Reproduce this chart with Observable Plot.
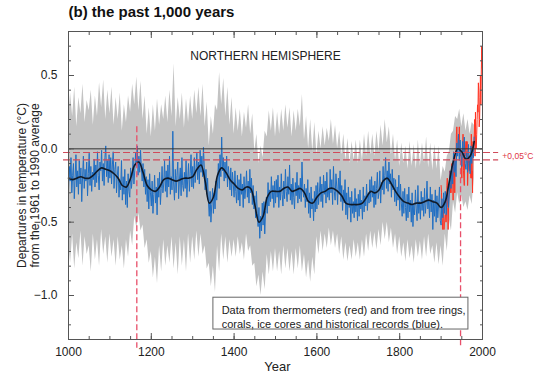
<!DOCTYPE html>
<html>
<head>
<meta charset="utf-8">
<script src="https://cdn.jsdelivr.net/npm/d3@7"></script>
<script src="https://cdn.jsdelivr.net/npm/@observablehq/plot@0.6"></script>
<style>
  html, body { margin: 0; padding: 0; background: #fff; }
</style>
</head>
<body>
<div id="chart"></div>
<script>
// Proxy reconstruction (tree rings, corals, ice cores, historical records), 2-year steps from 1000
const proxyStart = 1000, proxyStep = 2;
const proxyValues = [
  -0.28,-0.12,-0.22,-0.06,-0.30,-0.18,-0.10,-0.34,-0.20,-0.04,
  -0.26,-0.15,-0.31,-0.08,-0.24,-0.13,-0.36,-0.19,-0.05,-0.27,
  -0.14,-0.22,-0.09,-0.32,-0.17,-0.03,-0.25,-0.12,-0.29,-0.16,
  -0.21,-0.07,-0.26,-0.11,-0.23,-0.02,-0.18,-0.28,-0.09,-0.15,
  -0.01,-0.22,-0.10,-0.25,-0.06,0.02,-0.19,-0.08,-0.23,-0.04,
  -0.20,-0.06,-0.24,-0.11,-0.02,-0.27,-0.14,-0.09,-0.30,-0.18,
  -0.12,-0.33,-0.21,-0.28,-0.08,-0.35,-0.19,-0.31,-0.14,-0.38,
  -0.22,-0.40,-0.17,-0.29,-0.33,-0.13,-0.27,-0.20,-0.06,-0.24,
  -0.15,-0.03,-0.12,0.02,-0.18,-0.05,-0.16,-0.01,-0.13,-0.22,
  -0.10,-0.26,-0.14,-0.31,-0.19,-0.36,-0.21,-0.41,-0.17,-0.30,
  -0.39,-0.22,-0.44,-0.31,-0.18,-0.37,-0.26,-0.45,-0.20,-0.33,
  -0.16,-0.38,-0.27,-0.12,-0.30,-0.24,-0.08,-0.29,-0.15,-0.33,
  -0.11,-0.26,-0.05,-0.31,-0.19,-0.28,0.12,-0.24,-0.35,-0.14,
  -0.30,-0.18,-0.09,-0.34,-0.21,-0.13,-0.32,-0.06,-0.25,-0.29,
  -0.16,-0.27,-0.08,-0.33,-0.20,-0.10,-0.29,-0.17,-0.04,-0.26,
  -0.12,-0.27,-0.06,-0.23,-0.15,-0.03,-0.21,-0.09,-0.24,-0.01,
  -0.16,-0.05,-0.19,0.01,-0.13,-0.28,-0.14,-0.31,-0.20,-0.36,
  -0.46,-0.29,-0.50,-0.38,-0.27,-0.44,-0.30,-0.41,-0.22,-0.35,
  -0.24,-0.10,-0.27,-0.04,-0.19,0.08,-0.15,-0.06,-0.22,-0.09,
  -0.20,-0.05,-0.26,-0.12,-0.18,-0.28,-0.13,-0.32,-0.16,-0.24,
  -0.33,-0.15,-0.29,-0.37,-0.18,-0.35,-0.21,-0.39,-0.17,-0.31,
  -0.24,-0.40,-0.19,-0.34,-0.27,-0.15,-0.33,-0.22,-0.37,-0.14,
  -0.30,-0.20,-0.38,-0.25,-0.41,-0.32,-0.47,-0.29,-0.44,-0.53,
  -0.40,-0.61,-0.46,-0.56,-0.37,-0.52,-0.36,-0.58,-0.42,-0.33,
  -0.44,-0.23,-0.39,-0.28,-0.36,-0.19,-0.34,-0.25,-0.40,-0.22,
  -0.37,-0.21,-0.33,-0.18,-0.40,-0.26,-0.35,-0.17,-0.31,-0.39,
  -0.22,-0.34,-0.14,-0.29,-0.36,-0.19,-0.31,-0.11,-0.35,-0.24,
  -0.38,-0.20,-0.33,-0.41,-0.23,-0.32,-0.16,-0.37,-0.25,-0.34,
  -0.20,-0.36,-0.09,-0.28,-0.33,-0.24,-0.40,-0.27,-0.36,-0.21,
  -0.44,-0.30,-0.47,-0.26,-0.41,-0.34,-0.49,-0.29,-0.43,-0.25,
  -0.41,-0.23,-0.38,-0.30,-0.19,-0.36,-0.24,-0.40,-0.18,-0.31,
  -0.22,-0.37,-0.16,-0.33,-0.27,-0.35,-0.14,-0.30,-0.21,-0.38,
  -0.12,-0.29,-0.35,-0.17,-0.26,-0.38,-0.20,-0.31,-0.15,-0.36,
  -0.25,-0.42,-0.28,-0.37,-0.21,-0.45,-0.30,-0.48,-0.26,-0.40,
  -0.33,-0.50,-0.29,-0.44,-0.36,-0.47,-0.27,-0.43,-0.34,-0.49,
  -0.31,-0.46,-0.28,-0.41,-0.35,-0.48,-0.26,-0.43,-0.32,-0.39,
  -0.24,-0.42,-0.30,-0.37,-0.21,-0.36,-0.19,-0.33,-0.25,-0.40,
  -0.22,-0.38,-0.27,-0.16,-0.34,-0.30,-0.15,-0.37,-0.23,-0.28,
  -0.12,-0.31,-0.18,-0.06,-0.27,-0.15,-0.29,-0.09,-0.24,-0.17,
  -0.33,-0.14,-0.28,-0.20,-0.36,-0.21,-0.39,-0.26,-0.35,-0.18,
  -0.42,-0.24,-0.37,-0.46,-0.29,-0.44,-0.27,-0.40,-0.49,-0.31,
  -0.47,-0.26,-0.43,-0.35,-0.50,-0.30,-0.53,-0.38,-0.45,-0.28,
  -0.41,-0.49,-0.25,-0.44,-0.36,-0.48,-0.29,-0.42,-0.33,-0.46,
  -0.27,-0.44,-0.37,-0.22,-0.41,-0.34,-0.47,-0.26,-0.43,-0.31,
  -0.55,-0.35,-0.46,-0.28,-0.50,-0.32,-0.47,-0.38,-0.26,-0.49,
  -0.52,-0.34,-0.47,-0.30,-0.44,-0.29,-0.45,-0.36,-0.27,-0.40,
  -0.30,-0.15,-0.27,-0.12,-0.24,-0.02,-0.16,-0.08,-0.19,0.04,
  -0.05,0.10,-0.08,0.06,-0.04,-0.12,0.05,-0.06,0.08,-0.10,
  -0.14,-0.02,-0.16,0.03,-0.09,-0.17,0.02,-0.10,0.00,-0.06,
  0.08
];
// Uncertainty band (upper / lower edge), 5-year steps from 1000
const bandStart = 1000, bandStep = 5;
const bandUpper = [
  0.18,0.38,0.22,0.42,0.15,0.35,0.24,0.44,0.18,0.33,0.26,0.40,0.16,0.36,0.22,0.45,0.28,0.47,0.20,0.40,
  0.24,0.42,0.16,0.35,0.20,0.38,0.12,0.30,0.18,0.36,0.25,0.44,0.30,0.49,0.26,0.46,0.20,0.36,0.10,0.28,
  0.08,0.30,0.12,0.34,0.16,0.30,0.20,0.36,0.18,0.40,0.22,0.58,0.15,0.35,0.20,0.38,0.14,0.34,0.18,0.36,
  0.20,0.40,0.24,0.42,0.22,0.44,0.15,0.32,0.02,0.22,0.10,0.30,0.26,0.52,0.30,0.48,0.22,0.42,0.16,0.35,
  0.10,0.28,0.12,0.27,0.08,0.25,0.14,0.30,0.10,0.24,-0.02,0.10,-0.10,0.02,-0.06,0.12,0.08,0.26,0.12,0.28,
  0.08,0.25,0.10,0.27,0.12,0.30,0.14,0.28,0.08,0.26,0.12,0.27,0.15,0.37,0.06,0.22,0.00,0.20,-0.02,0.18,
  -0.04,0.12,0.00,0.15,0.02,0.14,0.05,0.20,0.03,0.16,0.00,0.12,-0.04,0.10,-0.08,0.07,-0.10,0.05,-0.08,0.06,
  -0.10,0.06,-0.08,0.10,-0.05,0.12,-0.04,0.10,-0.05,0.12,-0.02,0.16,0.02,0.20,0.04,0.15,-0.04,0.10,-0.08,0.06,
  -0.12,0.04,-0.10,0.02,-0.14,0.05,-0.12,0.03,-0.14,0.06,-0.12,0.04,-0.10,0.08,-0.13,0.04,-0.15,0.03,-0.14,0.02,
  -0.22,-0.12,-0.16,-0.05,-0.02,0.10,0.12,0.22,0.20,0.27,0.15,0.24,0.12,0.20,0.10,0.18,0.16
];
const bandLower = [
  -0.62,-0.78,-0.58,-0.82,-0.64,-0.75,-0.56,-0.80,-0.60,-0.72,-0.66,-0.84,-0.58,-0.76,-0.62,-0.80,-0.55,-0.72,-0.60,-0.78,
  -0.58,-0.74,-0.62,-0.80,-0.60,-0.76,-0.66,-0.82,-0.62,-0.74,-0.56,-0.66,-0.46,-0.54,-0.44,-0.56,-0.52,-0.68,-0.62,-0.78,
  -0.70,-0.88,-0.74,-0.92,-0.66,-0.84,-0.62,-0.80,-0.66,-0.78,-0.60,-0.82,-0.64,-0.86,-0.60,-0.80,-0.62,-0.84,-0.58,-0.78,
  -0.60,-0.76,-0.56,-0.74,-0.58,-0.72,-0.66,-0.82,-0.78,-0.94,-0.80,-0.98,-0.66,-0.84,-0.58,-0.76,-0.60,-0.78,-0.62,-0.74,
  -0.62,-0.74,-0.60,-0.72,-0.64,-0.76,-0.58,-0.70,-0.66,-0.80,-0.78,-0.94,-0.86,-1.00,-0.84,-0.96,-0.72,-0.86,-0.70,-0.84,
  -0.68,-0.84,-0.70,-0.86,-0.66,-0.82,-0.68,-0.84,-0.70,-0.86,-0.68,-0.82,-0.66,-0.84,-0.72,-0.88,-0.76,-0.91,-0.74,-0.86,
  -0.60,-0.72,-0.56,-0.70,-0.58,-0.68,-0.54,-0.66,-0.56,-0.68,-0.58,-0.72,-0.60,-0.76,-0.64,-0.77,-0.66,-0.76,-0.62,-0.74,
  -0.64,-0.76,-0.62,-0.74,-0.58,-0.70,-0.56,-0.68,-0.57,-0.69,-0.55,-0.66,-0.50,-0.62,-0.50,-0.64,-0.54,-0.68,-0.58,-0.72,
  -0.60,-0.74,-0.64,-0.77,-0.62,-0.75,-0.66,-0.78,-0.62,-0.74,-0.63,-0.76,-0.60,-0.74,-0.58,-0.72,-0.66,-0.78,-0.64,-0.79,
  -0.66,-0.80,-0.58,-0.70,-0.48,-0.56,-0.36,-0.44,-0.30,-0.38,-0.32,-0.40,-0.36,-0.42,-0.32,-0.38,-0.20
];
// 40-year smoothed curve, 10-year steps from 1000
const smoothStart = 1000, smoothStep = 10;
const smoothValues = [
  -0.20,-0.21,-0.20,-0.19,-0.20,-0.20,-0.18,-0.15,-0.13,-0.14,
  -0.15,-0.17,-0.20,-0.25,-0.26,-0.20,-0.11,-0.09,-0.16,-0.25,
  -0.28,-0.29,-0.26,-0.21,-0.20,-0.21,-0.22,-0.21,-0.20,-0.20,
  -0.19,-0.14,-0.11,-0.22,-0.37,-0.33,-0.18,-0.13,-0.16,-0.21,
  -0.24,-0.27,-0.28,-0.26,-0.27,-0.38,-0.50,-0.46,-0.33,-0.29,
  -0.29,-0.29,-0.27,-0.26,-0.29,-0.28,-0.27,-0.30,-0.36,-0.37,
  -0.33,-0.30,-0.29,-0.27,-0.27,-0.29,-0.32,-0.37,-0.38,-0.38,
  -0.38,-0.37,-0.33,-0.29,-0.30,-0.28,-0.22,-0.20,-0.24,-0.29,
  -0.33,-0.36,-0.37,-0.38,-0.37,-0.37,-0.36,-0.35,-0.36,-0.37,
  -0.40,-0.36,-0.22,-0.08,0.00,-0.02,-0.07,-0.05,0.05
];
// Thermometer record, annual from 1900
const thermoStart = 1900;
const thermoValues = [
  -0.25,-0.30,-0.45,-0.50,-0.55,-0.45,-0.35,-0.55,-0.50,-0.50,
  -0.45,-0.45,-0.50,-0.45,-0.25,-0.20,-0.40,-0.55,-0.40,-0.30,
  -0.30,-0.15,-0.30,-0.25,-0.30,-0.20,-0.10,-0.20,-0.15,-0.35,
  -0.10,-0.05,-0.10,-0.30,-0.10,-0.15,-0.05,0.10,0.15,0.05,
  0.05,0.00,0.00,0.05,0.15,0.00,-0.05,0.00,-0.05,-0.10,
  -0.20,-0.05,0.00,0.10,-0.15,-0.20,-0.25,0.05,0.05,0.00,
  -0.05,0.05,0.00,0.05,-0.25,-0.15,-0.10,-0.05,-0.15,-0.05,
  -0.05,-0.15,-0.20,0.10,-0.20,-0.15,-0.30,0.05,-0.05,0.05,
  0.10,0.20,-0.05,0.25,0.00,0.00,0.10,0.20,0.30,0.25,
  0.45,0.40,0.15,0.20,0.35,0.50,0.30,0.50,0.70,0.55
];
// Reference levels and marked years
const zeroLevel = [0];
const bandLevels = [-0.025, -0.075];
const markedYears = [1165, 1947];
const markedTops = [0.15, -0.075];
const xLabelTicks = [1000, 1200, 1400, 1600, 1800, 2000];
const xMinorTicks = d3.range(1000, 2001, 50);
const yLabelTicks = [-1.0, -0.5, 0.0, 0.5];
const yMinorTicks = d3.range(-13, 9).map(d => d / 10);

const proxyRows = proxyValues.map((v, i) => ({year: proxyStart + proxyStep * i, v}));
const bandRows = bandUpper.map((hi, i) => ({year: bandStart + bandStep * i, hi, lo: bandLower[i]}));
const smoothRows = smoothValues.map((v, i) => ({year: smoothStart + smoothStep * i, v}));
const thermoRows = thermoValues.map((v, i) => ({year: thermoStart + i, v}));
const markRows = markedYears.map((year, i) => ({year, top: markedTops[i]}));

const font = "'Liberation Sans', Arial, Helvetica, sans-serif";
const fmt = d => (d < 0 ? "\u2212" : "") + Math.abs(d).toFixed(1);
const axisColor = "#555";

const chart = Plot.plot({
  width: 540,
  height: 375,
  marginTop: 31,
  marginRight: 58,
  marginBottom: 36,
  marginLeft: 68,
  x: {domain: [1000, 2000]},
  y: {domain: [-1.3, 0.8]},
  style: {fontFamily: font, fontSize: "12px", background: "#fff", color: "#222"},
  marks: [
    Plot.areaY(bandRows, {x: "year", y1: "lo", y2: "hi", fill: "#c3c3c3"}),
    Plot.line(thermoRows, {x: "year", y: "v", stroke: "#ff3322", strokeWidth: 1}),
    Plot.line(proxyRows, {x: "year", y: "v", stroke: "#1f6ec2", strokeWidth: 1}),
    Plot.line(smoothRows, {x: "year", y: "v", stroke: "#101a28", strokeWidth: 1.6, curve: "catmull-rom"}),
    Plot.ruleY(zeroLevel, {x1: 1000, x2: 2000, stroke: "#333", strokeWidth: 1}),
    Plot.ruleY(bandLevels, {x1: 988, x2: 2039, stroke: "#d04a5a", strokeWidth: 1.1, strokeDasharray: "7,3"}),
    Plot.ruleX(markRows, {x: "year", y1: "top", y2: -1.36, stroke: "#e8506a", strokeWidth: 1.3, strokeDasharray: "6,3"}),
    Plot.frame({stroke: axisColor}),
    // ticks (inward)
    Plot.axisX({anchor: "bottom", ticks: xMinorTicks, tickSize: 3, dy: -3, fill: "none", stroke: axisColor, label: null}),
    Plot.axisX({anchor: "bottom", ticks: xLabelTicks, tickSize: 6, dy: -6, fill: "none", stroke: axisColor, label: null}),
    Plot.axisX({anchor: "top", ticks: xMinorTicks, tickSize: 3, dy: 3, fill: "none", stroke: axisColor, label: null}),
    Plot.axisX({anchor: "top", ticks: xLabelTicks, tickSize: 6, dy: 6, fill: "none", stroke: axisColor, label: null}),
    Plot.axisY({anchor: "left", ticks: yMinorTicks, tickSize: 3, dx: 3, fill: "none", stroke: axisColor, label: null}),
    Plot.axisY({anchor: "left", ticks: yLabelTicks, tickSize: 6, dx: 6, fill: "none", stroke: axisColor, label: null}),
    Plot.axisY({anchor: "right", ticks: yMinorTicks, tickSize: 3, dx: -3, fill: "none", stroke: axisColor, label: null}),
    Plot.axisY({anchor: "right", ticks: yLabelTicks, tickSize: 6, dx: -6, fill: "none", stroke: axisColor, label: null}),
    // tick labels
    Plot.axisX({anchor: "bottom", ticks: xLabelTicks, tickSize: 0, tickPadding: 8, tickFormat: d => String(d), fill: "#222", fontSize: 12, label: null}),
    Plot.axisY({anchor: "left", ticks: yLabelTicks, tickSize: 0, tickPadding: 11, tickFormat: fmt, fill: "#222", fontSize: 12, label: null}),
    // titles and labels
    Plot.text(["(b) the past 1,000 years"], {frameAnchor: "top-left", dy: -19.8, lineAnchor: "middle", textAnchor: "start", fontWeight: "bold", fontSize: 15, fill: "#111"}),
    Plot.text(["Departures in temperature (\u00b0C)"], {frameAnchor: "left", dx: -46, rotate: -90, lineAnchor: "middle", textAnchor: "middle", fontSize: 12, fill: "#222"}),
    Plot.text(["from the 1961 to 1990 average"], {frameAnchor: "left", dx: -33, rotate: -90, lineAnchor: "middle", textAnchor: "middle", fontSize: 12, fill: "#222"}),
    Plot.text(["Year"], {frameAnchor: "bottom", dx: 2, dy: 27.5, lineAnchor: "middle", textAnchor: "middle", fontSize: 13, fill: "#222"}),
    Plot.text(["NORTHERN HEMISPHERE"], {x: 1476, y: 0.631, lineAnchor: "middle", textAnchor: "middle", fontSize: 12, fill: "#222"}),
    Plot.text(["+0,05\u00b0C"], {x: 2048, y: -0.05, lineAnchor: "middle", textAnchor: "start", fontSize: 8.5, fill: "#e03545"}),
    Plot.rect([0], {x1: 1350, x2: 1966, y1: -1.015, y2: -1.232, fill: "#fff", stroke: "#666", strokeWidth: 1}),
    Plot.text(["Data from thermometers (red) and from tree rings,"], {x: 1370, y: -1.099, lineAnchor: "middle", textAnchor: "start", fontSize: 11, fill: "#222"}),
    Plot.text(["corals, ice cores and historical records (blue)."], {x: 1370, y: -1.195, lineAnchor: "middle", textAnchor: "start", fontSize: 11, fill: "#222"})
  ]
});
document.getElementById("chart").appendChild(chart);
</script>
</body>
</html>
